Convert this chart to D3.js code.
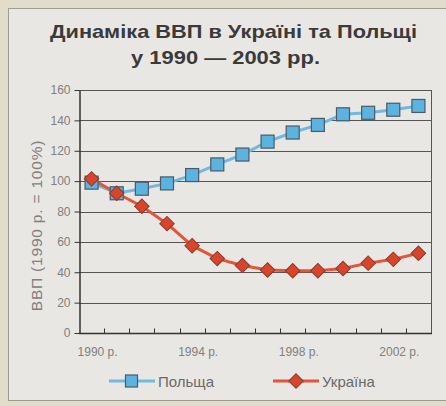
<!DOCTYPE html>
<html>
<head>
<meta charset="utf-8">
<script src="https://cdn.jsdelivr.net/npm/d3@7"></script>
<style>
  body { margin: 0; background: #e2dccb; }
  svg { display: block; font-family: "Liberation Sans", Arial, sans-serif; }
</style>
</head>
<body>
<div id="chart"></div>
<script>
// Data (1990 = 100%)
const years = [1990, 1991, 1992, 1993, 1994, 1995, 1996, 1997, 1998, 1999, 2000, 2001, 2002, 2003];
const poland = [99, 92, 95, 98.5, 104, 111, 117.5, 126, 132, 137, 144, 145, 147, 149.5];
const ukraine = [101.5, 92, 83.5, 72, 57.5, 49, 44.5, 41.5, 41, 41, 42.5, 46, 48.5, 52.5];
const yTicks = [0, 20, 40, 60, 80, 100, 120, 140, 160];
const xLabelYears = [1990, 1994, 1998, 2002];
const titleLines = ["Динаміка ВВП в Україні та Польщі", "у 1990 — 2003 рр."];

const W = 446, H = 406;
const margin = { top: 90, right: 15, bottom: 73, left: 79 };

const svg = d3.select("#chart").append("svg")
  .attr("width", W)
  .attr("height", H);

// paper frame
svg.append("rect")
  .attr("x", 8.5).attr("y", 8.5)
  .attr("width", W).attr("height", 392)
  .attr("fill", "#e9e7e3")
  .attr("stroke", "#a09c92");

// Title, stretched a little to the width of the original
const titlePos = [{ x: 50, y: 38, w: 367 }, { x: 131, y: 64, w: 189 }];
svg.append("g")
  .selectAll("text")
  .data(titleLines)
  .join("text")
  .attr("x", (d, i) => titlePos[i].x)
  .attr("y", (d, i) => titlePos[i].y)
  .attr("textLength", (d, i) => titlePos[i].w)
  .attr("lengthAdjust", "spacingAndGlyphs")
  .attr("fill", "#3a3a3a")
  .style("font-weight", "bold")
  .style("font-size", "18.5px")
  .text(d => d);

// Scales
const x = d3.scalePoint()
  .domain(years)
  .range([margin.left, W - margin.right])
  .padding(0.5);

const y = d3.scaleLinear()
  .domain([0, 160])
  .range([H - margin.bottom, margin.top]);

const step = x.step();

// Grid lines
svg.append("g")
  .selectAll("line")
  .data(yTicks.filter(d => d > 0))
  .join("line")
  .attr("x1", margin.left)
  .attr("x2", W - margin.right)
  .attr("y1", d => Math.round(y(d)) + 0.5)
  .attr("y2", d => Math.round(y(d)) + 0.5)
  .attr("stroke", "#555")
  .attr("stroke-width", 1);

// right border of plot
svg.append("line")
  .attr("x1", W - margin.right + 0.5).attr("x2", W - margin.right + 0.5)
  .attr("y1", y(160)).attr("y2", y(0))
  .attr("stroke", "#555");

// Y axis
const gY = svg.append("g")
  .attr("transform", `translate(${margin.left + 0.5},0)`)
  .call(d3.axisLeft(y).tickValues(yTicks).tickSize(5).tickSizeOuter(0).tickPadding(4));
gY.select(".domain").attr("stroke", "#333").attr("stroke-width", 1.5);
gY.selectAll(".tick line").attr("stroke", "#333");
gY.selectAll(".tick text").attr("fill", "#808080").style("font-size", "12px").style("font-family", "Liberation Sans, Arial, sans-serif");

// X axis: ticks on category boundaries
const gX = svg.append("g")
  .attr("transform", `translate(0,${Math.round(y(0)) + 0.5})`);
gX.append("line")
  .attr("x1", margin.left).attr("x2", W - margin.right + 1)
  .attr("stroke", "#333").attr("stroke-width", 1.5);
gX.selectAll("line.tick")
  .data(years.slice(0, -1))
  .join("line")
  .attr("class", "tick")
  .attr("x1", d => Math.round(x(d) + step / 2) + 0.5)
  .attr("x2", d => Math.round(x(d) + step / 2) + 0.5)
  .attr("y1", 0).attr("y2", -5)
  .attr("stroke", "#333");
gX.selectAll("text")
  .data(xLabelYears)
  .join("text")
  .attr("x", d => x(d) - 14)
  .attr("y", 22)
  .attr("fill", "#808080")
  .style("font-size", "12px")
  .text(d => d + " р.");

// Y axis title
svg.append("text")
  .attr("transform", `translate(42,${(y(0) + y(160)) / 2 + 14}) rotate(-90)`)
  .attr("text-anchor", "middle")
  .attr("fill", "#808080")
  .style("font-size", "15.5px")
  .style("letter-spacing", "0.8px")
  .text("ВВП (1990 р. = 100%)");

// Lines
const line = d3.line()
  .x((d, i) => x(years[i]))
  .y(d => y(d));

const polandColor = { line: "#72b8df", fill: "#5cb3e0", stroke: "#4a5a66" };
const ukraineColor = { line: "#e4553a", fill: "#d9452c", stroke: "#8a3a2a" };

svg.append("path")
  .datum(poland)
  .attr("d", line)
  .attr("fill", "none")
  .attr("stroke", polandColor.line)
  .attr("stroke-width", 3);

svg.append("path")
  .datum(ukraine)
  .attr("d", line)
  .attr("fill", "none")
  .attr("stroke", ukraineColor.line)
  .attr("stroke-width", 3);

// Markers
const sq = 13;
svg.append("g")
  .selectAll("rect")
  .data(poland)
  .join("rect")
  .attr("x", (d, i) => x(years[i]) - sq / 2)
  .attr("y", d => y(d) - sq / 2)
  .attr("width", sq).attr("height", sq)
  .attr("fill", polandColor.fill)
  .attr("stroke", polandColor.stroke)
  .attr("stroke-width", 1.2);

const diamond = d3.symbol().type(d3.symbolSquare).size(105);
svg.append("g")
  .selectAll("path")
  .data(ukraine)
  .join("path")
  .attr("d", diamond)
  .attr("transform", (d, i) => `translate(${x(years[i])},${y(d)}) rotate(45)`)
  .attr("fill", ukraineColor.fill)
  .attr("stroke", ukraineColor.stroke)
  .attr("stroke-width", 1);

// Legend
const legend = [
  { name: "Польща", c: polandColor, x: 109, kind: "square" },
  { name: "Україна", c: ukraineColor, x: 273, kind: "diamond" }
];
const gL = svg.append("g").attr("transform", "translate(0,381)");
legend.forEach(l => {
  gL.append("line")
    .attr("x1", l.x).attr("x2", l.x + 46)
    .attr("stroke", l.c.line).attr("stroke-width", 3);
  if (l.kind === "square") {
    gL.append("rect")
      .attr("x", l.x + 22.5 - 6).attr("y", -6)
      .attr("width", 12).attr("height", 12)
      .attr("fill", l.c.fill).attr("stroke", l.c.stroke).attr("stroke-width", 1.2);
  } else {
    gL.append("path")
      .attr("d", diamond)
      .attr("transform", `translate(${l.x + 23},0) rotate(45)`)
      .attr("fill", l.c.fill).attr("stroke", l.c.stroke);
  }
  gL.append("text")
    .attr("x", l.x + 49)
    .attr("y", 5.5)
    .attr("fill", "#6a6a6a")
    .style("font-size", "15px")
    .text(l.name);
});
</script>
</body>
</html>
